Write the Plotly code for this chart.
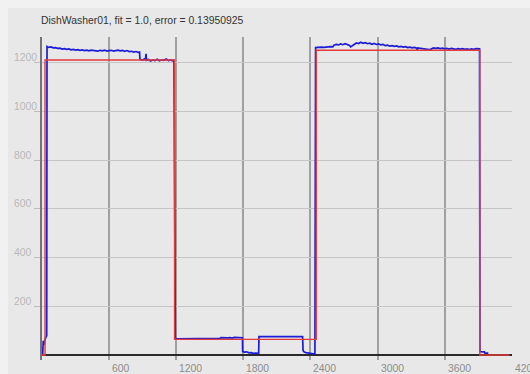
import plotly.graph_objects as go

# ---- data -------------------------------------------------------------
title_text = "DishWasher01, fit = 1.0, error = 0.13950925"

# fitted step model (change points, held until next point)
fit_t = [0, 27, 1185, 2452, 3914, 4180]
fit_v = [0, 1210, 64, 1250, 0, 0]

# measured power signal
meas_t = [
    0, 6, 11, 18, 25, 32, 38, 42,
    45, 60, 80, 100, 120, 140, 160, 180, 200, 220, 240, 260, 280, 300,
    320, 340, 360, 380, 400, 420, 440, 460, 480, 500, 520, 540, 560, 580,
    600, 620, 640, 660, 680, 700, 720, 740, 760, 780, 800, 820, 840, 860,
    872, 876, 900, 915, 925, 930, 934, 950, 970, 990, 1010, 1030, 1050,
    1070, 1090, 1110, 1130, 1150, 1165, 1180,
    1186, 1192, 1200, 1250, 1300, 1400, 1500, 1590, 1600, 1620, 1640,
    1660, 1680, 1700, 1720, 1740, 1760, 1780, 1792,
    1794, 1810, 1830, 1850, 1870, 1890, 1910, 1930, 1937,
    1940, 2000, 2100, 2200, 2300, 2320, 2330,
    2334, 2345, 2360, 2380, 2400, 2420, 2440,
    2446, 2460, 2480, 2500, 2520, 2540, 2560, 2580, 2600, 2610, 2630,
    2650, 2670, 2690, 2710, 2730, 2750, 2760, 2770, 2790, 2810, 2830,
    2850, 2870, 2890, 2910, 2930, 2950, 2970, 2990, 3010, 3030, 3050,
    3070, 3090, 3110, 3130, 3150, 3170, 3190, 3210, 3230, 3250, 3270,
    3290, 3310, 3330, 3350, 3355, 3360, 3380, 3400, 3420, 3440, 3460,
    3480, 3500, 3520, 3540, 3560, 3580, 3600, 3620, 3640, 3660, 3680,
    3700, 3720, 3740, 3760, 3780, 3800, 3820, 3840, 3860, 3880, 3900,
    3912,
    3915, 3940, 3955, 3960, 3990,
]
meas_v = [
    0, 2, 58, 42, 62, 70, 74, 80,
    1266, 1262, 1264, 1260, 1261, 1258, 1259, 1255, 1257, 1254, 1256, 1252, 1254, 1251,
    1253, 1250, 1252, 1249, 1251, 1248, 1251, 1249, 1250, 1247, 1250, 1248, 1251, 1247,
    1249, 1250, 1247, 1249, 1251, 1248, 1250, 1246, 1249, 1245, 1246, 1243, 1245, 1242,
    1243, 1213, 1210, 1214, 1211, 1236, 1209, 1212, 1206, 1211, 1208, 1213, 1207,
    1211, 1209, 1214, 1208, 1211, 1207, 1209,
    82, 72, 66, 66, 65, 65, 66, 68, 71, 70, 72,
    70, 71, 69, 72, 71, 70, 72, 71,
    14, 12, 13, 9, 10, 7, 8, 6, 7,
    75, 75, 74, 75, 75, 74, 76,
    18, 12, 10, 8, 5, 6, 4,
    1261, 1262, 1261, 1263, 1262, 1264, 1263, 1265, 1264, 1271, 1274,
    1272, 1276, 1273, 1277, 1274, 1270, 1264, 1268, 1275, 1280, 1278,
    1283, 1279, 1281, 1277, 1279, 1275, 1278, 1274, 1276, 1272, 1274,
    1269, 1271, 1267, 1269, 1266, 1268, 1264, 1266, 1263, 1265, 1261,
    1263, 1260, 1262, 1259, 1249, 1260, 1258, 1256, 1254, 1255, 1253,
    1255, 1260, 1258, 1260, 1257, 1259, 1256, 1258, 1255, 1258, 1256,
    1254, 1257, 1255, 1257, 1254, 1256, 1253, 1256, 1254, 1257, 1255,
    1256,
    14, 14, 13, 8, 8,
]

x_tick_vals = [600, 1200, 1800, 2400, 3000, 3600, 4200]
y_tick_vals = [200, 400, 600, 800, 1000, 1200]

FONT = "Liberation Sans, Arial, sans-serif"

# ---- figure -----------------------------------------------------------
fig = go.Figure()

fig.add_trace(go.Scatter(
    x=meas_t, y=meas_v, mode="lines",
    line=dict(color="#1c1cd6", width=1.7),
    hoverinfo="skip", showlegend=False,
))
fig.add_trace(go.Scatter(
    x=fit_t, y=fit_v, mode="lines", line_shape="hv",
    line=dict(color="#e53a3a", width=1.4),
    hoverinfo="skip", showlegend=False,
))

# panel background with a lighter outer border
fig.add_shape(type="rect", xref="paper", yref="paper",
              x0=-0.0723, x1=1.1, y0=-0.1, y1=1.0898,
              fillcolor="#e8e8e8", line_width=0, layer="below")

annotations = []
for v in x_tick_vals:
    annotations.append(dict(
        x=v, y=-0.0248, xref="x", yref="paper", text=str(v),
        showarrow=False, xanchor="left", yanchor="middle", xshift=1,
        font=dict(family=FONT, size=10.4, color="#8c8c8c"),
    ))
for v in y_tick_vals:
    annotations.append(dict(
        x=-0.0628, y=v, xref="paper", yref="y", text=str(v),
        showarrow=False, xanchor="left", yanchor="middle", yshift=5,
        font=dict(family=FONT, size=10.4, color="#b8b8b8"),
    ))

fig.update_layout(
    width=530, height=374,
    margin=dict(l=42, r=18, t=37, b=14),
    paper_bgcolor="#f1f1f1",
    plot_bgcolor="rgba(0,0,0,0)",
    title=dict(
        text=title_text, x=41 / 530, xanchor="left",
        y=1 - 20 / 374, yanchor="middle", yref="container",
        font=dict(family=FONT, size=10.4, color="#333333"),
    ),
    annotations=annotations,
    xaxis=dict(
        range=[0, 4202], tick0=0, dtick=600, showticklabels=False,
        showgrid=True, gridcolor="#a0a0a0", gridwidth=1.5,
        zeroline=False, showline=False, ticks="",
    ),
    yaxis=dict(
        range=[-20.5, 1304.6], tickvals=y_tick_vals, showticklabels=False,
        showgrid=True, gridcolor="#c6c6c6", gridwidth=1,
        zeroline=True, zerolinecolor="#2a2a2a", zerolinewidth=1.5,
        showline=True, linecolor="#747474", linewidth=2,
        ticks="outside", ticklen=6, tickcolor="#bdbdbd", tickwidth=1,
    ),
)

fig.write_html("out.html")
